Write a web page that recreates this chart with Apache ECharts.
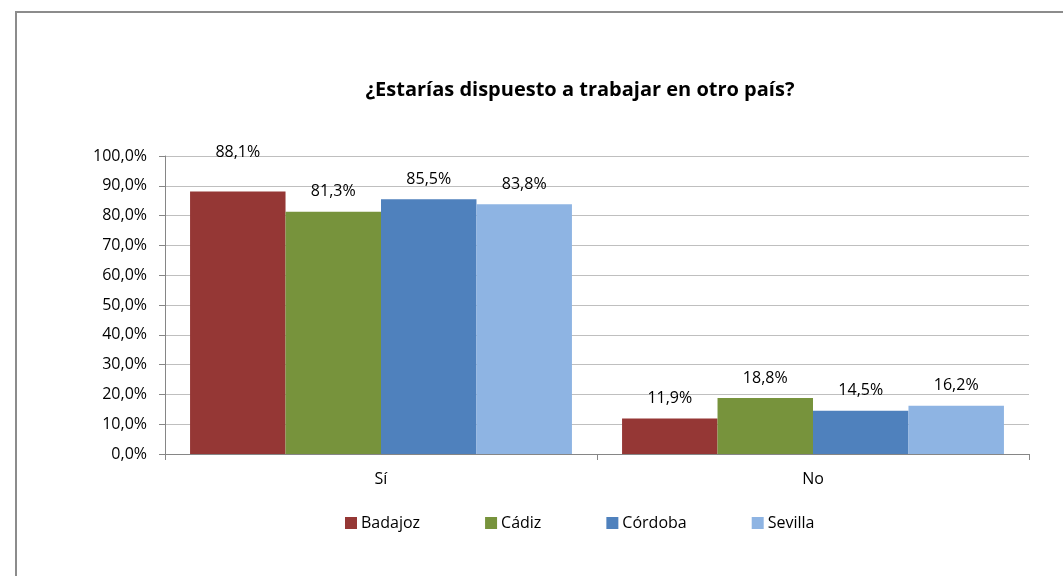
<!DOCTYPE html>
<html>
<head>
<meta charset="utf-8">
<script src="https://cdn.jsdelivr.net/npm/echarts@6/dist/echarts.min.js"></script>
<style>
    html, body { margin: 0; padding: 0; background: #fff; }
    #frame {
        position: absolute; left: 15px; top: 11px; width: 1100px; height: 600px;
        border-top: 2px solid #8c8c8c; border-left: 2px solid #8c8c8c;
    }
    #chart { position: absolute; left: 0; top: 0; width: 1063px; height: 576px; }
</style>
</head>
<body>
<div id="frame"></div>
<div id="chart"></div>
<script>
// data
const categories = ['Sí', 'No'];
const seriesNames = ['Badajoz', 'Cádiz', 'Córdoba', 'Sevilla'];
const badajoz = [88.1, 11.9];
const cadiz = [81.3, 18.8];
const cordoba = [85.5, 14.5];
const sevilla = [83.8, 16.2];
const yTicks = [0, 10, 20, 30, 40, 50, 60, 70, 80, 90, 100];

const colors = ['#953735', '#77933C', '#4F81BD', '#8EB4E3'];
const font = 'Open Sans';

function pct(v) {
    return v.toFixed(1).replace('.', ',') + '%';
}

let myChart = echarts.init(document.getElementById('chart'));

let values = [badajoz, cadiz, cordoba, sevilla];
let series = seriesNames.map(function (name, i) {
    return {
        name: name,
        type: 'bar',
        barGap: 0,
        barCategoryGap: '11.6%',
        itemStyle: {color: colors[i]},
        label: {
            show: true,
            position: 'top',
            distance: 12,
            color: '#000',
            fontFamily: font,
            fontSize: 16,
            formatter: function (p) { return pct(p.value); }
        },
        // Badajoz "Sí" label sits higher in the original
        data: values[i].map(function (v, j) {
            if (i === 0 && j === 0) {
                return {value: v, label: {distance: 31}};
            }
            return v;
        })
    };
});

let option = {
    animation: false,
    title: {
        text: '¿Estarías dispuesto a trabajar en otro país?',
        left: 575,
        textAlign: 'center',
        top: 75,
        textStyle: {
            fontFamily: font,
            fontSize: 20,
            fontWeight: 'bold',
            color: '#000'
        }
    },
    legend: {
        data: seriesNames,
        left: 340,
        top: 510,
        itemWidth: 12,
        itemHeight: 12,
        itemGap: 65,
        icon: 'rect',
        textStyle: {
            fontFamily: font,
            fontSize: 16,
            color: '#000',
            padding: [0, 0, 0, -1]
        }
    },
    grid: {
        left: 165,
        right: 34,
        top: 156,
        bottom: 122
    },
    xAxis: {
        type: 'category',
        data: categories,
        axisLine: {lineStyle: {color: '#868686', width: 1}},
        axisTick: {show: true, length: 6, lineStyle: {color: '#868686'}},
        axisLabel: {
            margin: 17,
            color: '#000',
            fontFamily: font,
            fontSize: 16
        }
    },
    yAxis: {
        type: 'value',
        min: yTicks[0],
        max: yTicks[yTicks.length - 1],
        interval: yTicks[1] - yTicks[0],
        axisLine: {show: true, lineStyle: {color: '#868686', width: 1}},
        axisTick: {show: true, length: 6, lineStyle: {color: '#868686'}},
        splitLine: {lineStyle: {color: '#BFBFBF', width: 1}},
        axisLabel: {
            margin: 18,
            color: '#000',
            fontFamily: font,
            fontSize: 16,
            formatter: function (v) { return pct(v); }
        }
    },
    series: series
};

if (option && typeof option === "object") {
    myChart.setOption(option, true);
}
</script>
</body>
</html>
